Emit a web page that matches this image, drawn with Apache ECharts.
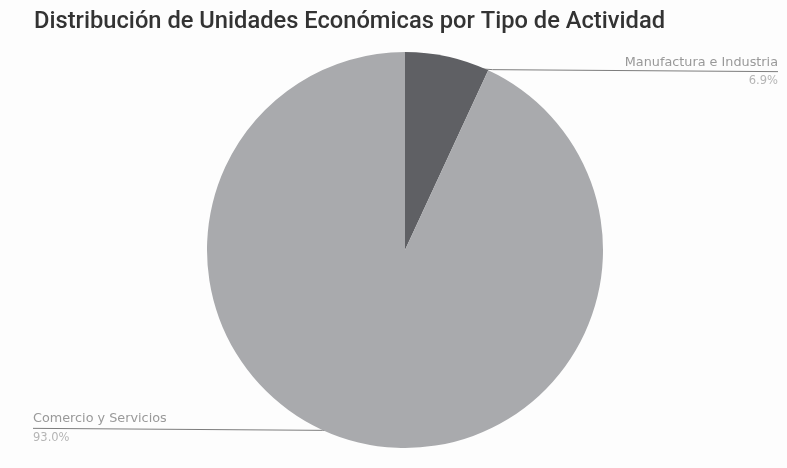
<!DOCTYPE html>
<html><head><meta charset="utf-8">
<script src="https://cdn.jsdelivr.net/npm/echarts@6/dist/echarts.min.js"></script>
<style>html,body{margin:0;padding:0;background:#fdfdfd}#c{width:787px;height:468px}</style>
</head><body><div id="c"></div>
<script>
const categories = ['Manufactura e Industria', 'Comercio y Servicios'];
const values = [6.9, 93.0];
const colors = ['#5f6064', '#a9aaad'];

const chart = echarts.init(document.getElementById('c'));
chart.setOption({
  backgroundColor: '#fdfdfd',
  title: {
    text: 'Distribución de Unidades Económicas por Tipo de Actividad',
    left: 29, top: 5,
    textStyle: { fontFamily: 'Roboto', fontSize: 23.7, fontWeight: 500, color: '#333' }
  },
  series: [{
    type: 'pie',
    left: 25, right: 1, top: 0, bottom: 0,
    center: [380, 250],
    radius: 198,
    startAngle: 90,
    clockwise: true,
    data: categories.map((n, i) => ({ name: n, value: values[i], itemStyle: { color: colors[i] } })),
    label: {
      alignTo: 'edge',
      edgeDistance: 8,
      minMargin: 5,
      formatter: p => '{name|' + p.name + '}\n{pct|' + p.value.toFixed(1) + '%}',
      rich: {
        name: { fontSize: 12.8, color: '#999', fontFamily: 'DejaVu Sans', lineHeight: 20 },
        pct: { fontSize: 11.5, color: '#b5b5b5', fontFamily: 'DejaVu Sans', lineHeight: 18 }
      }
    },
    labelLine: { length: 15, length2: 0, maxSurfaceAngle: 80, lineStyle: { color: '#7d7d7d', width: 1 } },
    labelLayout: function (params) {
      const w = chart.getWidth();
      const r = params.labelRect;
      const isLeft = r.x < w / 2;
      const lay = chart.getModel().getSeriesByIndex(0).getData().getItemLayout(params.dataIndex);
      const mid = (lay.startAngle + lay.endAngle) / 2;
      const sx = lay.cx + lay.r * Math.cos(mid);
      const sy = lay.cy + lay.r * Math.sin(mid);
      const targetY = sy + (isLeft ? -15 : 15);
      const dy = targetY - (r.y + r.height / 2);
      const edgeX = isLeft ? r.x : r.x + r.width;
      return {
        dy: dy,
        labelLinePoints: [
          [sx, targetY + (isLeft ? 4 : -5)],
          [sx + (isLeft ? -40 : 45), targetY + (isLeft ? 2 : -2)],
          [edgeX, targetY]
        ]
      };
    }
  }]
});
</script></body></html>
